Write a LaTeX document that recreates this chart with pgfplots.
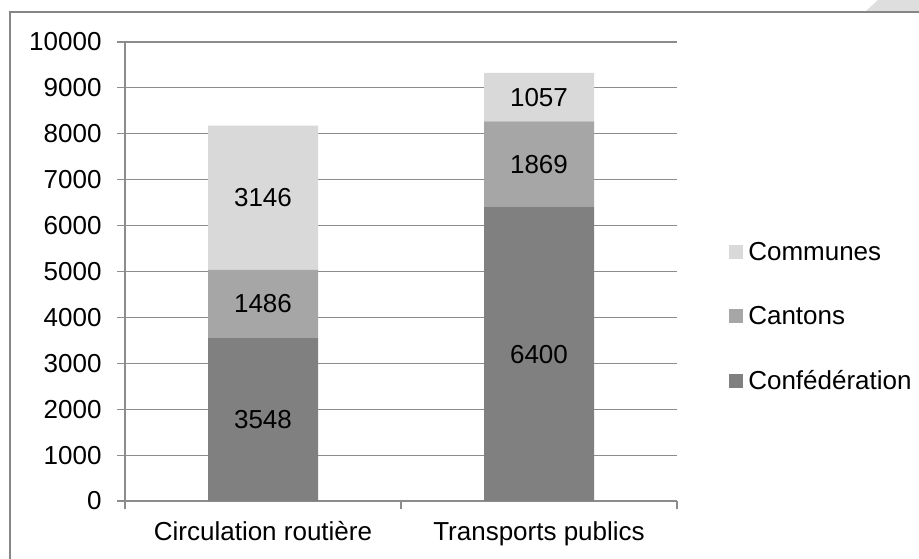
\documentclass[border=0pt]{standalone}
\usepackage{fontspec}
\setmainfont{Liberation Sans}
\usepackage{pgfplots}
\pgfplotsset{compat=1.18}
\definecolor{framegray}{RGB}{134,134,134}
\definecolor{gridgray}{RGB}{140,140,140}
\definecolor{conf}{RGB}{128,128,128}
\definecolor{cant}{RGB}{166,166,166}
\definecolor{comm}{RGB}{217,217,217}
\definecolor{curl}{RGB}{222,222,222}
\pgfplotsset{
  base/.style={
    scale only axis, width=276pt, height=229.5pt,
    xmin=-0.5, xmax=1.5, ymin=0, ymax=10000,
    /pgf/number format/assume math mode=true,
    /pgf/number format/1000 sep={},
  }
}
\begin{document}
\begin{tikzpicture}[font=\fontsize{13}{15}\selectfont]
\useasboundingbox (-62.5pt,-28.5pt) rectangle (397pt,250.5pt);
\fill[white] (-62.5pt,-28.5pt) rectangle (397pt,250.5pt);
\begin{axis}[
  base,
  ybar stacked, bar width=55pt,
  xtick={-0.5,0.5,1.5}, x tick label as interval,
  xticklabels={Circulation routière, Transports publics},
  ytick={0,1000,...,10000}, scaled y ticks=false,
  axis x line*=bottom, axis y line*=left,
  axis line style={draw=gridgray, line width=0.6pt, -},
  ymajorgrids, grid style={draw=gridgray, line width=0.6pt},
  tick align=outside, major tick length=4pt,
  tick style={draw=gridgray, line width=0.6pt},
  tick label style={font=\fontsize{13}{15}\selectfont},
  xticklabel style={yshift=-2.5pt, text height=9.5pt, text depth=2.7pt},
  yticklabel style={xshift=-4.2pt},
  reverse legend,
  legend style={at={(1.094,0.405)}, anchor=west, draw=none, fill=none,
    inner sep=0pt, row sep=22.8pt, column sep=0pt,
    nodes={inner sep=0pt, text height=9.5pt, text depth=0pt},
    font=\fontsize{13}{15}\selectfont},
  legend cell align=left,
  /tikz/every odd column/.append style={column sep=2.5pt},
  legend image code/.code={\fill[#1] (0pt,-4pt) rectangle (7pt,3pt);},
]
% Confederation
\addplot[fill=conf, draw=none] coordinates {(0,3548) (1,6400)};
% Cantons
\addplot[fill=cant, draw=none] coordinates {(0,1486) (1,1869)};
% Communes
\addplot[fill=comm, draw=none] coordinates {(0,3146) (1,1057)};
\legend{Confédération, Cantons, Communes}
\end{axis}
% value labels, set at the middle of each segment
\begin{axis}[base, hide axis,
  nodes near coords, point meta=explicit symbolic,
  every node near coord/.append style={anchor=center, font=\fontsize{13}{15}\selectfont}]
\addplot[only marks, mark=none] coordinates {
  (0,1774)[3548] (0,4291)[1486] (0,6607)[3146]
  (1,3200)[6400] (1,7334.5)[1869] (1,8797.5)[1057]
};
\end{axis}
\draw[framegray, line width=1pt] (-57.5pt,-40pt) -- (-57.5pt,244.5pt) -- (400pt,244.5pt);
\fill[curl] (370.5pt,245pt) -- (397pt,245pt) -- (397pt,250.5pt) -- (376.5pt,250.5pt) -- cycle;
\end{tikzpicture}
\end{document}
